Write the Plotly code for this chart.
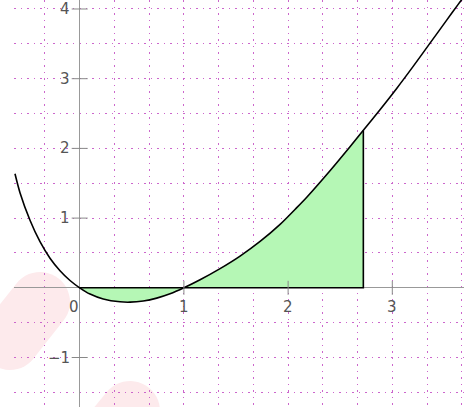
import plotly.graph_objects as go
import math

# ---- data ----
curve_x = [-0.621, -0.573, -0.477, -0.381, -0.285, -0.189, -0.093, 0.0, 0.099, 0.226,
           0.387, 0.483, 0.610, 0.739, 0.867, 1.0, 1.155, 1.347, 1.539, 1.731,
           1.923, 2.083, 2.179, 2.402, 2.594, 2.722, 2.882, 3.042, 3.202, 3.362,
           3.522, 3.634, 3.69]
curve_y = [1.636, 1.365, 0.97, 0.662, 0.425, 0.245, 0.105, 0.0, -0.09, -0.16,
           -0.201, -0.206, -0.189, -0.148, -0.086, 0.0, 0.115, 0.275, 0.455, 0.665,
           0.91, 1.15, 1.3, 1.68, 2.025, 2.26, 2.555, 2.86, 3.18, 3.51,
           3.84, 4.07, 4.18]
fill_start = 0.0
fill_end = 2.722

x_ticks = [0, 1, 2, 3]
x_tick_labels = ["0", "1", "2", "3"]
y_ticks = [-1, 1, 2, 3, 4]
y_tick_labels = ["\u22121", "1", "2", "3", "4"]

X_RANGE = [-0.6305, 3.688]
Y_RANGE = [-1.710, 4.129]
W, H = 464, 407
ML = 14

fig = go.Figure()

# shaded region
fx = [x for x in curve_x if fill_start <= x <= fill_end]
fy = [y for x, y in zip(curve_x, curve_y) if fill_start <= x <= fill_end]
fig.add_trace(go.Scatter(x=fx, y=fy, mode="lines", line=dict(width=0, shape="spline", smoothing=0.8),
                         fill="tozeroy", fillcolor="#b5f7b5", hoverinfo="skip"))
# outline of region (bottom and right edge)
fig.add_trace(go.Scatter(x=[fill_start, fill_end, fill_end], y=[0, 0, fy[-1]], mode="lines",
                         line=dict(color="black", width=1.6), hoverinfo="skip"))
# curve
fig.add_trace(go.Scatter(x=curve_x, y=curve_y, mode="lines",
                         line=dict(color="black", width=1.6, shape="spline", smoothing=0.8),
                         hoverinfo="skip"))

# watermark blobs (decorative, in pixel space -> paper)
def capsule(ax, ay, bx, by, r, n=24):
    dx, dy = bx - ax, by - ay
    ang = math.atan2(dy, dx)
    pts = []
    for i in range(n + 1):
        t = ang + math.pi / 2 + math.pi * i / n
        pts.append((bx + r * math.cos(t - math.pi), by + r * math.sin(t - math.pi)))
    for i in range(n + 1):
        t = ang - math.pi / 2 + math.pi * i / n
        pts.append((ax + r * math.cos(t + math.pi), ay + r * math.sin(t + math.pi)))
    path = ""
    for k, (px, py) in enumerate(pts):
        u = (px - ML) / (W - ML)
        v = 1 - py / H
        path += ("M" if k == 0 else "L") + f"{u:.4f},{v:.4f} "
    return path + "Z"

for (ax, ay, bx, by, r) in [(40, 302, 10, 340, 30), (130, 411, 90, 460, 30)]:
    fig.add_shape(type="path", path=capsule(ax, ay, bx, by, r), xref="paper", yref="paper",
                  fillcolor="#fdeaec", line=dict(width=0), layer="below")

# tick marks
for xv in x_ticks[1:]:
    fig.add_shape(type="line", xref="x", yref="y", x0=xv, x1=xv, ysizemode="pixel",
                  yanchor=0, y0=-7, y1=7, line=dict(color="#888", width=1))
for yv in y_ticks:
    fig.add_shape(type="line", xref="x", yref="y", y0=yv, y1=yv, xsizemode="pixel",
                  xanchor=0, x0=-8, x1=8, line=dict(color="#888", width=1))

# tick labels
font = dict(family="DejaVu Sans", size=15, color="#555")
for xv, lab in zip(x_ticks, x_tick_labels):
    fig.add_annotation(x=xv, y=0, text=lab, showarrow=False, xanchor="center", yanchor="middle",
                       xshift=-6 if xv == 0 else 0, yshift=-19, font=font)
for yv, lab in zip(y_ticks, y_tick_labels):
    fig.add_annotation(x=0, y=yv, text=lab, showarrow=False, xanchor="right", yanchor="middle",
                       xshift=-8, font=font)

grid = dict(showgrid=True, gridcolor="#cc66cc", gridwidth=1, griddash="1.5px,5px",
            zeroline=True, zerolinecolor="#999", zerolinewidth=1,
            showticklabels=False, ticks="", showline=False)
fig.update_xaxes(range=X_RANGE, tick0=0, dtick=1/3, **grid)
fig.update_yaxes(range=Y_RANGE, tick0=0, dtick=0.5, **grid)

fig.update_layout(width=W, height=H, margin=dict(l=ML, r=0, t=0, b=0),
                  plot_bgcolor="white", paper_bgcolor="white", showlegend=False)

fig.write_html("out.html", config={"displayModeBar": False},
               post_script="document.body.style.margin='0';")
